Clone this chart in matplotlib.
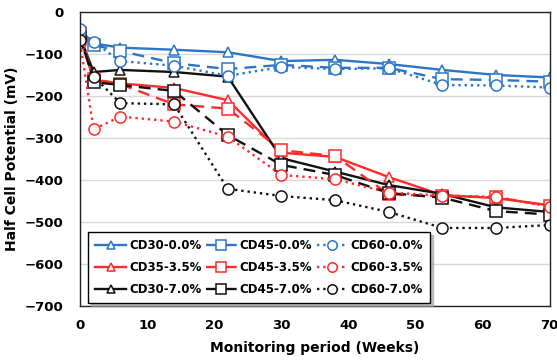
import numpy as np
import matplotlib.pyplot as plt

weeks = [0, 2, 6, 14, 22, 30, 38, 46, 54, 62, 70]

cd30_00 = [-43, -75, -85, -90, -96, -117, -114, -124, -138, -150, -156]
cd45_00 = [-55, -79, -93, -122, -136, -126, -133, -133, -160, -162, -166]
cd60_00 = [-40, -72, -117, -128, -152, -131, -136, -134, -174, -175, -180]

cd35_35 = [-60, -162, -170, -181, -210, -335, -345, -393, -436, -443, -460]
cd45_35 = [-50, -160, -172, -220, -230, -329, -343, -434, -438, -441, -462]
cd60_35 = [-75, -279, -249, -261, -297, -388, -398, -430, -437, -440, -463]

cd30_70 = [-60, -143, -138, -143, -154, -348, -380, -412, -433, -465, -476]
cd45_70 = [-55, -167, -174, -188, -293, -364, -388, -431, -442, -474, -482]
cd60_70 = [-67, -154, -217, -220, -421, -438, -448, -476, -514, -514, -507]

blue = '#2E75C6'
red = '#FF2A2A'
black = '#111111'

series = [
    ('CD30-0.0%', cd30_00, blue, '-', '^'),
    ('CD35-3.5%', cd35_35, red, '-', '^'),
    ('CD30-7.0%', cd30_70, black, '-', '^'),
    ('CD45-0.0%', cd45_00, blue, (0, (5, 3)), 's'),
    ('CD45-3.5%', cd45_35, red, (0, (5, 3)), 's'),
    ('CD45-7.0%', cd45_70, black, (0, (5, 3)), 's'),
    ('CD60-0.0%', cd60_00, blue, ':', 'o'),
    ('CD60-3.5%', cd60_35, red, ':', 'o'),
    ('CD60-7.0%', cd60_70, black, ':', 'o'),
]
marker_size = {'^': 7.5, 's': 8.5, 'o': 8}

fig = plt.figure(figsize=(5.57, 3.61), dpi=100)
ax = fig.add_axes([0.144, 0.152, 0.843, 0.815])

for label, vals, color, ls, mk in series:
    ax.plot(weeks, vals, color=color, linestyle=ls, linewidth=1.7,
            marker=mk, markersize=marker_size[mk], markerfacecolor='white',
            markeredgecolor=color, markeredgewidth=1.1, label=label)

ax.set_xlim(0, 70)
ax.set_ylim(-700, 0)
ax.set_xticks(np.arange(0, 71, 10))
ax.set_yticks(np.arange(-700, 1, 100))
ax.yaxis.grid(True, color='#d9d9d9', linewidth=1)
ax.set_axisbelow(True)
ax.tick_params(length=0, labelsize=9.5)
ax.tick_params(axis='y', pad=12)
ax.tick_params(axis='x', pad=9)
for t in ax.get_xticklabels() + ax.get_yticklabels():
    t.set_fontweight('bold')
for s in ax.spines.values():
    s.set_color('#222222')
    s.set_linewidth(1)

ax.set_xlabel('Monitoring period (Weeks)', fontsize=10, fontweight='bold', labelpad=7)
ax.set_ylabel('Half Cell Potential (mV)', fontsize=10, fontweight='bold', labelpad=4)

leg = ax.legend(ncol=3, loc='lower left', bbox_to_anchor=(0.017, 0.01),
                prop={'weight': 'bold', 'size': 8.5},
                frameon=True, fancybox=False, shadow={'color': '#999999', 'alpha': 0.6},
                edgecolor='black', handlelength=2.6, columnspacing=0.4,
                handletextpad=0.25, labelspacing=0.75, borderpad=0.6,
                borderaxespad=0, markerscale=0.85)
leg.get_frame().set_linewidth(1)

fig.savefig('out.png', dpi=100)
